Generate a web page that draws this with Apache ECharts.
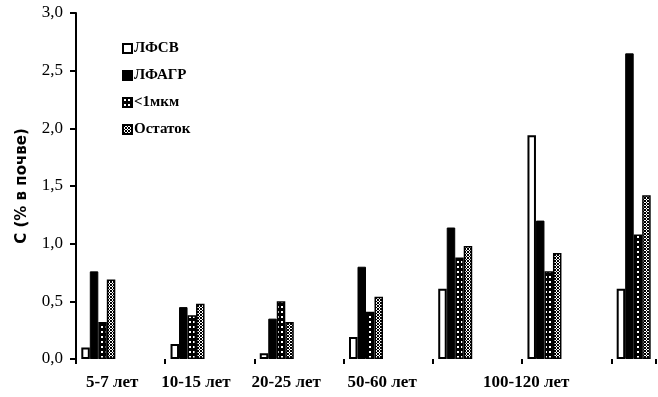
<!DOCTYPE html>
<html><head><meta charset="utf-8">
<script src="https://cdn.jsdelivr.net/npm/echarts@6/dist/echarts.min.js"></script>
<style>html,body{margin:0;padding:0;background:#fff}#c{width:658px;height:397px}</style>
</head><body><div id="c"></div>
<script>
// 13 category slots; groups occupy every other slot
const categories = ['5-7 лет','','10-15 лет','','20-25 лет','','50-60 лет','','g5','','100-120 лет','','g7'];
const seriesNames = ['ЛФСВ','ЛФАГР','<1мкм','Остаток'];
const lfsv    = [0.10,null,0.13,null,0.05,null,0.19,null,0.61,null,1.94,null,0.61];
const lfagr   = [0.76,null,0.45,null,0.35,null,0.80,null,1.14,null,1.20,null,2.65];
const lt1mkm  = [0.32,null,0.38,null,0.50,null,0.41,null,0.88,null,0.76,null,1.08];
const ostatok = [0.69,null,0.48,null,0.32,null,0.54,null,0.98,null,0.92,null,1.42];
const yTicks = ['0,0','0,5','1,0','1,5','2,0','2,5','3,0'];
const xLabelText = ['5-7 лет','10-15 лет','20-25 лет','50-60 лет','100-120 лет'];

function pat(w,h,draw){const c=document.createElement('canvas');c.width=w;c.height=h;const x=c.getContext('2d');draw(x);return {image:c,repeat:'repeat'};}
const patSmall = pat(4,5,x=>{x.fillStyle='#000';x.fillRect(0,0,4,5);x.fillStyle='#fff';x.fillRect(1,1,2,2);});
const patChk = pat(3,3,x=>{x.fillStyle='#000';x.fillRect(0,0,3,3);x.fillStyle='#fff';x.fillRect(1,0,1,1);x.fillRect(0,1,1,1);x.fillRect(2,1,1,1);x.fillRect(1,2,1,1);});

const chart = echarts.init(document.getElementById('c'));
const labelPos = [0.81,2.69,4.71,6.86,10.09];
const mk = (name,data,color,bw)=>({name,type:'bar',data,barWidth:8.5,barGap:'0%',
  itemStyle:{color,borderColor:'#000',borderWidth:bw},emphasis:{disabled:true}});
chart.setOption({
  animation:false,
  grid:{left:76,right:2,top:13,bottom:38,containLabel:false},
  legend:{orient:'vertical',left:117,top:36,itemGap:12,itemWidth:9,itemHeight:9,
    icon:'rect',data:seriesNames,
    textStyle:{fontFamily:'Liberation Serif',fontWeight:'bold',fontSize:15,color:'#000',padding:[0,0,0,-3]}},
  xAxis:[{type:'category',data:categories,boundaryGap:true,
    axisLine:{show:false},axisTick:{show:true,length:5,lineStyle:{color:'#000',width:2}},
    axisLabel:{show:false},splitLine:{show:false}},
    {type:'value',min:0,max:13,position:'bottom',axisLine:{show:false},axisTick:{show:false},splitLine:{show:false},
     axisLabel:{customValues:labelPos,margin:15,color:'#000',fontFamily:'Liberation Serif',fontWeight:'bold',fontSize:17,
       formatter:v=>{const i=labelPos.indexOf(v);return i>=0?xLabelText[i]:'';}}}],
  yAxis:{type:'value',min:0,max:3,interval:0.5,
    name:'С (% в почве)',nameLocation:'middle',nameGap:46,nameRotate:90,
    nameTextStyle:{fontFamily:'DejaVu Sans',fontWeight:'bold',fontSize:15,color:'#000'},
    axisLine:{show:true,lineStyle:{color:'#000',width:2}},
    axisTick:{show:true,length:6,lineStyle:{color:'#000',width:2}},
    axisLabel:{margin:13,color:'#000',fontFamily:'Liberation Serif',fontSize:17,
      formatter:v=>yTicks[Math.round(v*2)]},
    splitLine:{show:false}},
  series:[mk(seriesNames[0],lfsv,'#fff',2),mk(seriesNames[1],lfagr,'#000',1),
          mk(seriesNames[2],lt1mkm,patSmall,1.5),mk(seriesNames[3],ostatok,patChk,1.5)]
});
</script></body></html>
